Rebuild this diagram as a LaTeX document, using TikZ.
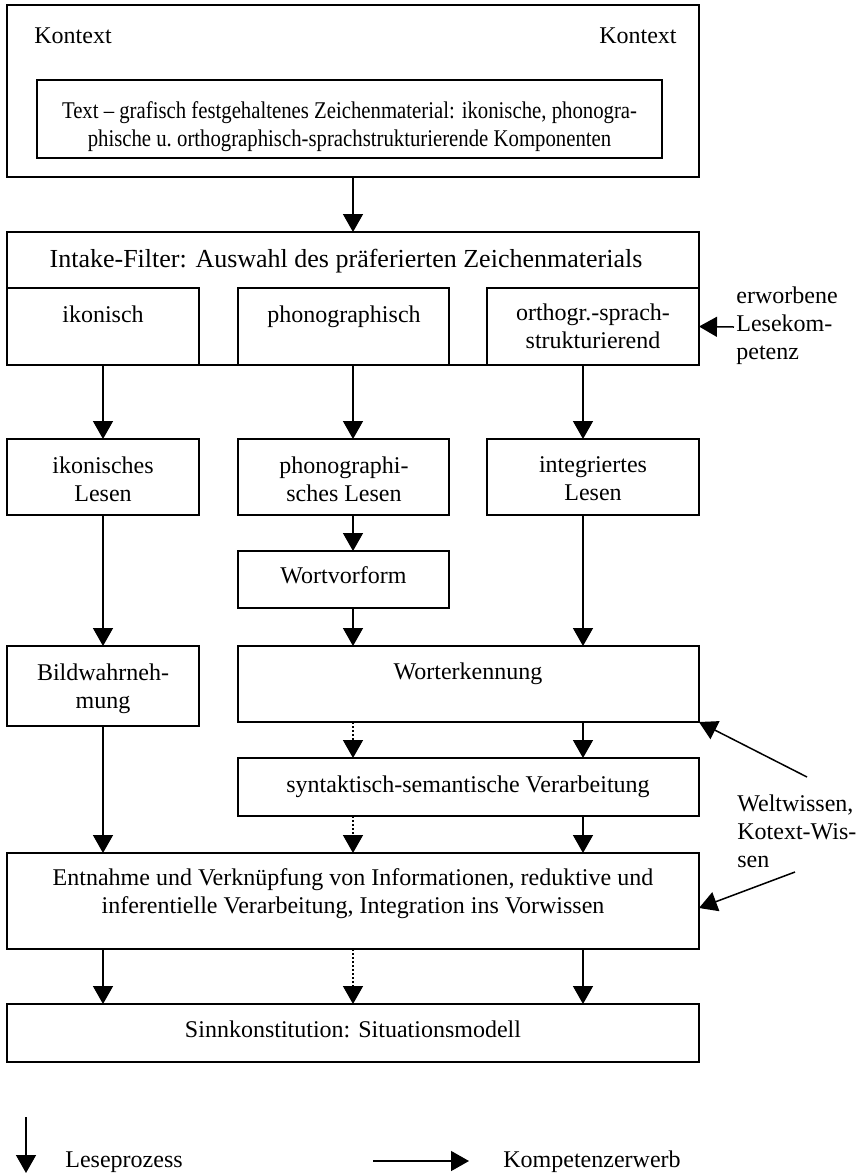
\documentclass[tikz,border=0pt]{standalone}
\usepackage{fontspec}
\setmainfont{Liberation Serif}
\newfontfamily\narrowfont[FakeStretch=0.865,Ligatures=TeX]{Liberation Serif}
\usetikzlibrary{arrows.meta,fit}
\tikzset{
  box/.style={draw, line width=0.7pt, inner sep=0pt, outer sep=0pt},
  lbl/.style={font=\fontsize{12}{14}\selectfont, align=center, inner sep=0pt},
  lblb/.style={lbl, anchor=base},
  lbll/.style={font=\fontsize{12}{14}\selectfont, align=left, inner sep=0pt, anchor=west},
  arr/.style={-{Triangle[width=10pt,length=9pt]}, line width=0.75pt},
  dotarr/.style={arr, dash pattern=on 1pt off 1pt},
}
\begin{document}
\begin{tikzpicture}[x=0.5pt,y=-0.5pt]
\useasboundingbox (0,0) rectangle (859,1175);
% column coordinates
\coordinate (cA) at (103,0);
\coordinate (cB) at (353,0);
\coordinate (cC) at (583,0);
% top box
\node[box, line width=0.9pt, fit={(7,5) (699,177)}] (top) {};
\node[lbl, anchor=base west] (ctxL) at (34,43) {Kontext};
\node[lbl, anchor=base east] (ctxR) at (677,43) {Kontext};
\node[box, fit={(37,80) (662,158)}] (inner) {};
\node[lbl, font=\narrowfont\fontsize{12}{14}\selectfont] (innerT) at (349.5,127) {Text – grafisch festgehaltenes Zeichenmaterial: ikonische, phonogra-\\phische u.\ orthographisch-sprachstrukturierende Komponenten};
% intake
\node[box, fit={(7,232) (699,365)}] (intake) {};
\node[lblb, font=\fontsize{13}{15}\selectfont] (intakeT) at (346,267) {Intake-Filter: Auswahl des präferierten Zeichenmaterials};
\node[box, fit={(7,288) (199,365)}] (ik) {};
\node[box, fit={(238,288) (449,365)}] (ph) {};
\node[box, fit={(487,288) (699,365)}] (or) {};
\node[lblb] (ikT) at (103,322) {ikonisch};
\node[lblb] (phT) at (344,322) {phonographisch};
\node[lbl] (orT) at (593,326.5) {orthogr.-sprach-\\strukturierend};
% row 2
\node[box, fit={(7,439) (199,515)}] (ikL) {};
\node[box, fit={(238,439) (449,515)}] (phL) {};
\node[box, fit={(487,439) (699,515)}] (inL) {};
\node[lbl] (ikLT) at (103,479) {ikonisches\\Lesen};
\node[lbl] (phLT) at (344,479) {phonographi-\\sches Lesen};
\node[lbl] (inLT) at (593,479) {integriertes\\Lesen};
% Wortvorform
\node[box, fit={(238,551) (449,608)}] (wv) {};
\node[lblb] (wvT) at (343.5,583) {Wortvorform};
% row 4
\node[box, fit={(7,646) (199,726)}] (bild) {};
\node[lbl] (bildT) at (103,689) {Bildwahrneh-\\mung};
\node[box, fit={(238,646) (699,722)}] (we) {};
\node[lblb] (weT) at (468,679) {Worterkennung};
% syntaktisch
\node[box, fit={(238,758) (699,816)}] (syn) {};
\node[lblb] (synT) at (468,792) {syntaktisch-semantische Verarbeitung};
% Entnahme
\node[box, fit={(7,853) (699,949)}] (ent) {};
\node[lbl] (entT) at (353,894) {Entnahme und Verknüpfung von Informationen, reduktive und\\inferentielle Verarbeitung, Integration ins Vorwissen};
% Sinn
\node[box, fit={(7,1004) (699,1062)}] (sinn) {};
\node[lblb] (sinnT) at (353,1037) {Sinnkonstitution: Situationsmodell};
% side texts
\node[lbll] (erw) at (736,326) {erworbene\\Lesekom-\\petenz};
\node[lbll] (welt) at (737,831) {Weltwissen,\\Kotext-Wis-\\sen};
% connectors
\draw[arr] (top.south -| cB) -- (intake.north -| cB);
\draw[arr] (ik.south -| cA) -- (ikL.north -| cA);
\draw[arr] (ph.south -| cB) -- (phL.north -| cB);
\draw[arr] (or.south -| cC) -- (inL.north -| cC);
\draw[arr] (phL.south -| cB) -- (wv.north -| cB);
\draw[arr] (ikL.south -| cA) -- (bild.north -| cA);
\draw[arr] (wv.south -| cB) -- (we.north -| cB);
\draw[arr] (inL.south -| cC) -- (we.north -| cC);
\draw[dotarr] (we.south -| cB) -- (syn.north -| cB);
\draw[arr] (we.south -| cC) -- (syn.north -| cC);
\draw[arr] (bild.south -| cA) -- (ent.north -| cA);
\draw[dotarr] (syn.south -| cB) -- (ent.north -| cB);
\draw[arr] (syn.south -| cC) -- (ent.north -| cC);
\draw[arr] (ent.south -| cA) -- (sinn.north -| cA);
\draw[dotarr] (ent.south -| cB) -- (sinn.north -| cB);
\draw[arr] (ent.south -| cC) -- (sinn.north -| cC);
% side arrows
\coordinate (erwTail) at (734,327);
\draw[arr] (erwTail) -- (or.east);
\coordinate (w1) at (807,777);
\draw[arr] (w1) -- (we.south east);
\coordinate (w2) at (795,872);
\coordinate (w2tip) at (0,908);
\draw[arr] (w2) -- (ent.east |- w2tip);
% legend
\coordinate (lg1a) at (26,1117);
\coordinate (lg1b) at (26,1173);
\draw[arr] (lg1a) -- (lg1b);
\node[lbl, anchor=base west] (lgT1) at (65,1167) {Leseprozess};
\coordinate (lg2a) at (373,1161);
\coordinate (lg2b) at (469,1161);
\draw[arr] (lg2a) -- (lg2b);
\node[lbl, anchor=base west] (lgT2) at (503,1167) {Kompetenzerwerb};
\end{tikzpicture}
\end{document}
